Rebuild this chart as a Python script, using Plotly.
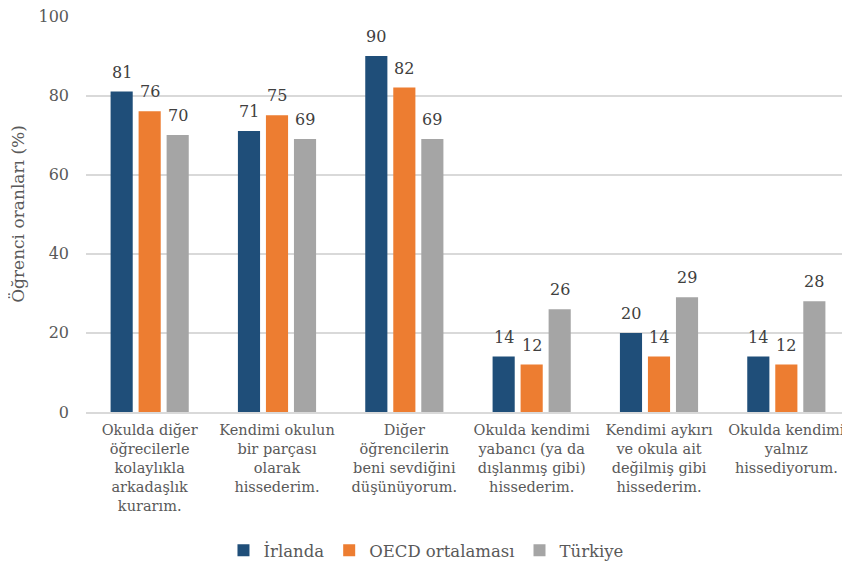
import plotly.graph_objects as go

categories = [
    "Okulda diğer<br>öğrecilerle<br>kolaylıkla<br>arkadaşlık<br>kurarım.",
    "Kendimi okulun<br>bir parçası<br>olarak<br>hissederim.",
    "Diğer<br>öğrencilerin<br>beni sevdiğini<br>düşünüyorum.",
    "Okulda kendimi<br>yabancı (ya da<br>dışlanmış gibi)<br>hissederim.",
    "Kendimi aykırı<br>ve okula ait<br>değilmiş gibi<br>hissederim.",
    "Okulda kendimi<br>yalnız<br>hissediyorum.",
]
irlanda = [81, 71, 90, 14, 20, 14]
oecd = [76, 75, 82, 12, 14, 12]
turkiye = [70, 69, 69, 26, 29, 28]
series_names = ["İrlanda", "OECD ortalaması", "Türkiye"]
colors = ["#1F4E79", "#ED7D31", "#A5A5A5"]

FONT = "DejaVu Serif"
fig = go.Figure()
series = [irlanda, oecd, turkiye]
for name, vals, col in zip(series_names, series, colors):
    fig.add_trace(go.Bar(
        x=categories, y=vals, name=name, marker_color=col,
        marker_line_width=0,
    ))

# data labels above bars
shifts = [-28, 0, 28]
for vals, xs in zip(series, shifts):
    for cat, v in zip(categories, vals):
        fig.add_annotation(x=cat, y=v, xref="x", yref="y", text=str(v),
                           showarrow=False, xshift=xs, yshift=8, yanchor="bottom",
                           font=dict(family=FONT, size=16, color="#404040"))

fig.update_layout(
    width=842, height=560,
    margin=dict(l=78, r=0, t=8, b=155),
    barmode="group", bargap=0.34, bargroupgap=0.21,
    plot_bgcolor="white", paper_bgcolor="white",
    font=dict(family=FONT, color="#595959", size=15),
    showlegend=True,
    legend=dict(orientation="h", x=0.445, xanchor="center", y=-0.305, yanchor="top",
                font=dict(family=FONT, size=16.5, color="#595959"),
                itemwidth=30, traceorder="normal", tracegroupgap=0),
)
fig.update_yaxes(range=[0, 100.1], tickvals=[0, 20, 40, 60, 80, 100], showgrid=True,
                 gridcolor="#D9D9D9", gridwidth=1.5,
                 zeroline=False, showline=False, automargin=False,
                 ticklabeloverflow="allow",
                 tickfont=dict(family=FONT, size=16, color="#595959"),
                 ticklabelstandoff=16,
                 title=dict(text="Öğrenci oranları (%)", font=dict(family=FONT, size=17, color="#595959"),
                            standoff=22))
fig.update_xaxes(showline=True, linecolor="#D9D9D9", linewidth=1.5, ticks="", automargin=False,
                 tickfont=dict(family=FONT, size=14.5, color="#595959"), ticklabelstandoff=4)

fig.write_html("out.html")
